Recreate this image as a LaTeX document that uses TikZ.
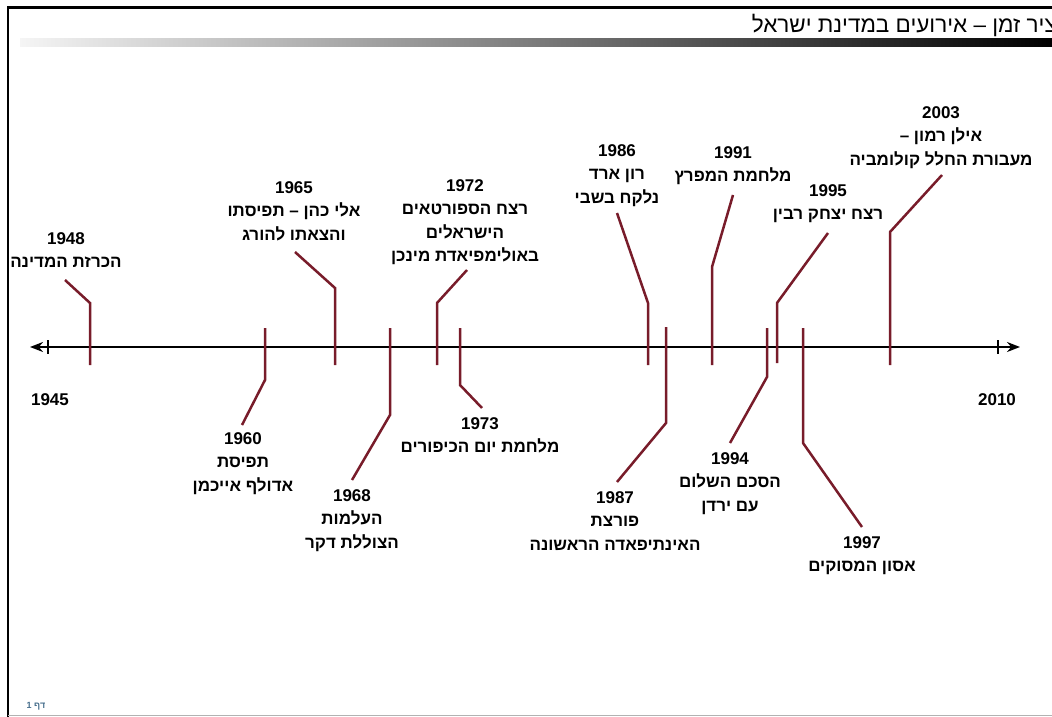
\documentclass[tikz,border=0pt]{standalone}
\usepackage{fontspec}
\setmainfont{Liberation Sans}
\newfontfamily\hebfont[Script=Hebrew]{Liberation Sans}
\TeXXeTstate=1
\usetikzlibrary{arrows.meta}
\definecolor{evred}{RGB}{120,28,42}
\definecolor{pagegray}{RGB}{70,110,140}
\newcommand{\hebl}[1]{\beginR #1\endR}

\begin{document}
\begin{tikzpicture}[x=1pt,y=-1pt,
  evline/.style={evred,line width=2.5pt},
  evlabel/.style={anchor=north,align=center,inner sep=0pt,
    font=\hebfont\bfseries\fontsize{17}{23.5}\selectfont},
  endlabel/.style={inner sep=0pt,font=\bfseries\fontsize{17}{20}\selectfont}]
\useasboundingbox (0,0) rectangle (1052,717);
% frame and title bar
\draw[line width=2.5pt] (8,717) -- (8,7.5) -- (1052,7.5);
\draw[gray!60,line width=1pt] (8,715.5) -- (1052,715.5);
\shade[left color=gray!8,middle color=gray!65,right color=black] (20,39) rectangle (1052,47);
\node[anchor=base east,inner sep=0pt,font=\hebfont\fontsize{22.5}{26}\selectfont] (title) at (1057,33) {\hebl{ציר זמן – אירועים במדינת ישראל}};
\node[inner sep=0pt,text=pagegray,font=\hebfont\bfseries\fontsize{9}{10}\selectfont] (page) at (36,706) {\hebl{דף 1}};

% axis
\coordinate (ax0) at (30,347);
\coordinate (ax1) at (1020,347);
\draw[line width=2pt,{Stealth[length=13pt,width=10pt]}-{Stealth[length=13pt,width=10pt]}] (ax0) -- (ax1);
\draw[line width=2pt] (48,340) -- (48,354);
\draw[line width=2pt] (998,340) -- (998,354);
\node[endlabel] (y1945) at (50,400) {1945};
\node[endlabel] (y2010) at (997,400) {2010};

% events above the axis
\coordinate (a48) at (90,365); \coordinate (k48) at (90,303); \coordinate (e48) at (65,280);
\node[evlabel] (l48) at (66,232) {1948\\\hebl{הכרזת המדינה}};
\draw[evline] (a48) -- (k48) -- (e48);

\coordinate (a65) at (335,365); \coordinate (k65) at (335,288); \coordinate (e65) at (295,252);
\node[evlabel] (l65) at (294,181) {1965\\\hebl{אלי כהן – תפיסתו}\\\hebl{והצאתו להורג}};
\draw[evline] (a65) -- (k65) -- (e65);

\coordinate (a72) at (437,365); \coordinate (k72) at (437,303); \coordinate (e72) at (467,270);
\node[evlabel] (l72) at (465,179) {1972\\\hebl{רצח הספורטאים}\\\hebl{הישראלים}\\\hebl{באולימפיאדת מינכן}};
\draw[evline] (a72) -- (k72) -- (e72);

\coordinate (a86) at (648,365); \coordinate (k86) at (648,303); \coordinate (e86) at (617,213);
\node[evlabel] (l86) at (617,144) {1986\\\hebl{רון ארד}\\\hebl{נלקח בשבי}};
\draw[evline] (a86) -- (k86) -- (e86);

\coordinate (a91) at (712,365); \coordinate (k91) at (712,267); \coordinate (e91) at (733,195);
\node[evlabel] (l91) at (733,146) {1991\\\hebl{מלחמת המפרץ}};
\draw[evline] (a91) -- (k91) -- (e91);

\coordinate (a95) at (777,363); \coordinate (k95) at (777,303); \coordinate (e95) at (828,233);
\node[evlabel] (l95) at (828,184) {1995\\\hebl{רצח יצחק רבין}};
\draw[evline] (a95) -- (k95) -- (e95);

\coordinate (a03) at (890,365); \coordinate (k03) at (890,232); \coordinate (e03) at (942,175);
\node[evlabel] (l03) at (941,106) {2003\\\hebl{אילן רמון –}\\\hebl{מעבורת החלל קולומביה}};
\draw[evline] (a03) -- (k03) -- (e03);

% events below the axis
\coordinate (a60) at (265,328); \coordinate (k60) at (265,380); \coordinate (e60) at (242,425);
\node[evlabel] (l60) at (243,432) {1960\\\hebl{תפיסת}\\\hebl{אדולף אייכמן}};
\draw[evline] (a60) -- (k60) -- (e60);

\coordinate (a68) at (390,328); \coordinate (k68) at (390,415); \coordinate (e68) at (352,480);
\node[evlabel] (l68) at (352,489) {1968\\\hebl{העלמות}\\\hebl{הצוללת דקר}};
\draw[evline] (a68) -- (k68) -- (e68);

\coordinate (a73) at (460,328); \coordinate (k73) at (460,385); \coordinate (e73) at (482,408);
\node[evlabel] (l73) at (480,417) {1973\\\hebl{מלחמת יום הכיפורים}};
\draw[evline] (a73) -- (k73) -- (e73);

\coordinate (a87) at (666,327); \coordinate (k87) at (666,423); \coordinate (e87) at (617,482);
\node[evlabel] (l87) at (615,491) {1987\\\hebl{פורצת}\\\hebl{האינתיפאדה הראשונה}};
\draw[evline] (a87) -- (k87) -- (e87);

\coordinate (a94) at (767,328); \coordinate (k94) at (767,377); \coordinate (e94) at (730,443);
\node[evlabel] (l94) at (730,452) {1994\\\hebl{הסכם השלום}\\\hebl{עם ירדן}};
\draw[evline] (a94) -- (k94) -- (e94);

\coordinate (a97) at (803,328); \coordinate (k97) at (803,443); \coordinate (e97) at (862,527);
\node[evlabel] (l97) at (862,536) {1997\\\hebl{אסון המסוקים}};
\draw[evline] (a97) -- (k97) -- (e97);
\end{tikzpicture}
\end{document}
